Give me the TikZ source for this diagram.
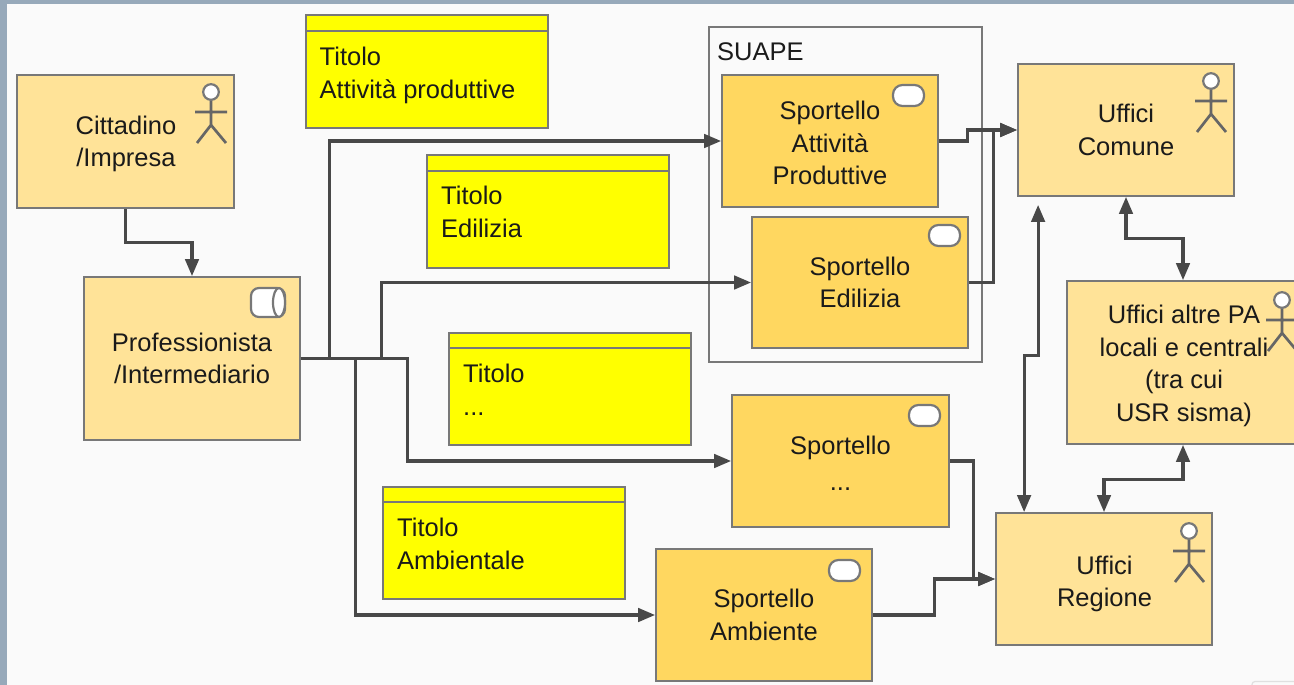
\documentclass[tikz,border=0pt]{standalone}
\usepackage{fontspec}
\setmainfont{Liberation Sans}
\usetikzlibrary{arrows.meta,calc}
\definecolor{pagebg}{HTML}{97A9BA}
\definecolor{canvas}{HTML}{FAFAFA}
\definecolor{actorfill}{HTML}{FFE398}
\definecolor{servicefill}{HTML}{FFD760}
\definecolor{titlefill}{RGB}{255,255,0}
\definecolor{edgeclr}{HTML}{787878}
\definecolor{connclr}{HTML}{484848}
\definecolor{txtclr}{HTML}{1A1A1A}
\tikzset{
  x=1pt,y=-1pt,
  every node/.style={font=\fontsize{25.5}{32.5}\selectfont,text=txtclr},
  boxbase/.style={draw=edgeclr,line width=1.8pt,inner sep=0pt,align=center,anchor=center},
  actorbox/.style={boxbase,fill=actorfill},
  servicebox/.style={boxbase,fill=servicefill},
  titlebox/.style={boxbase,fill=titlefill},
  titletext/.style={align=left,anchor=north west,inner sep=0pt},
  groupbox/.style={draw=edgeclr,line width=1.6pt,fill=canvas,inner sep=0pt},
  conn/.style={draw=connclr,line width=3.1pt,-{Triangle[length=17pt,width=13.5pt]}},
  biconn/.style={draw=connclr,line width=3.1pt,{Triangle[length=17pt,width=13.5pt]}-{Triangle[length=17pt,width=13.5pt]}},
  iconline/.style={draw=edgeclr!85!black,line width=2.7pt},
  iconfill/.style={draw=edgeclr,line width=2.2pt,fill=white},
}
\newcommand{\actoricon}[2]{%
  \begin{scope}[shift={(#1,#2)}]
    \draw[iconline] (0,8) -- (0,33) (-16,20) -- (16,20) (-14,51) -- (0,33) -- (15,51);
    \draw[iconfill] (0,0) circle[radius=7.8];
  \end{scope}}
\newcommand{\pillicon}[2]{%
  \draw[iconfill,rounded corners=9.5pt] (#1,#2) rectangle ++(31,21);}
\begin{document}
\begin{tikzpicture}
\useasboundingbox (0,0) rectangle (1294,685);
\fill[pagebg] (0,0) rectangle (1294,685);
\fill[canvas] (7,4) rectangle (1294,685);
\begin{scope}
\clip (0,0) rectangle (1294,685);
\draw[draw=black!12,line width=1.2pt,rounded corners=3pt] (1252,690) -- (1252,681.5) -- (1300,681.5);

% group
\node[groupbox,minimum width=273pt,minimum height=335pt] (suape) at (845.5,194.5) {};
\node[anchor=west,inner sep=0pt] (suapelabel) at (717,52) {SUAPE};

% title boxes
\node[titlebox,minimum width=242pt,minimum height=113pt] (t1) at (427,71.5) {};
\draw[edgeclr,line width=1.6pt] ($(t1.north west)+(0,17)$) -- ($(t1.north east)+(0,17)$);
\node[titletext] (t1l) at (319.5,47) {Titolo\\Attività produttive};
\node[titlebox,minimum width=242pt,minimum height=113pt] (t2) at (548,211.5) {};
\draw[edgeclr,line width=1.6pt] ($(t2.north west)+(0,17)$) -- ($(t2.north east)+(0,17)$);
\node[titletext] (t2l) at (441,186) {Titolo\\Edilizia};
\node[titlebox,minimum width=242pt,minimum height=112pt] (t3) at (570,389) {};
\draw[edgeclr,line width=1.6pt] ($(t3.north west)+(0,16)$) -- ($(t3.north east)+(0,16)$);
\node[titletext] (t3l) at (463,364) {Titolo\\...};
\node[titlebox,minimum width=242pt,minimum height=112pt] (t4) at (504,543) {};
\draw[edgeclr,line width=1.6pt] ($(t4.north west)+(0,16)$) -- ($(t4.north east)+(0,16)$);
\node[titletext] (t4l) at (397,518) {Titolo\\Ambientale};

% actors
\node[actorbox,minimum width=217pt,minimum height=133pt] (cit) at (125.5,141.5) {};
\node[align=center,inner sep=0pt] (citl) at (126,144) {Cittadino\\/Impresa};
\node[actorbox,minimum width=216pt,minimum height=163pt] (prof) at (192,358.5) {Professionista\\/Intermediario};
\node[actorbox,minimum width=216pt,minimum height=132pt] (comune) at (1126,130) {Uffici\\Comune};
\node[actorbox,minimum width=232pt,minimum height=163pt] (altre) at (1183,362.5) {};
\node[align=center,inner sep=0pt] (altrel) at (1184,366) {Uffici altre PA\\locali e centrali\\(tra cui\\USR sisma)};
\node[actorbox,minimum width=216pt,minimum height=132pt] (regione) at (1104,579) {};
\node[align=center,inner sep=0pt] (regionel) at (1104.5,584) {Uffici\\Regione};

% services
\node[servicebox,minimum width=216pt,minimum height=132pt] (spap) at (830,141) {};
\node[align=center,inner sep=0pt] (spapl) at (830,143) {Sportello\\Attività\\Produttive};
\node[servicebox,minimum width=216pt,minimum height=131pt] (sped) at (860,282.5) {Sportello\\Edilizia};
\node[servicebox,minimum width=217pt,minimum height=132pt] (spdots) at (840.5,461) {};
\node[align=center,inner sep=0pt] (spdotsl) at (840.5,463.5) {Sportello\\[3pt]...};
\node[servicebox,minimum width=216pt,minimum height=132pt] (spamb) at (764,615) {Sportello\\Ambiente};

% icons
\actoricon{211}{92}
\actoricon{1211}{81}
\actoricon{1282}{300}
\actoricon{1189}{531}
\pillicon{893}{85}
\pillicon{929}{225}
\pillicon{909}{405}
\pillicon{829}{560}
\draw[iconfill,rounded corners=8pt] (251,288) rectangle (285,317);
\draw[iconfill] (279,302.5) ellipse[x radius=6,y radius=14.5];

% connectors
\draw[conn] (cit.south) -- ++(0,34) -| (prof.north);
\draw[conn] (prof.east) -- ++(29,0) |- (spap.west);
\draw[conn] (prof.east) -- ++(81,0) |- (sped.west);
\draw[conn] (prof.east) -- ++(107,0) |- (spdots.west);
\draw[conn] (prof.east) -- ++(55,0) |- (spamb.west);
\draw[conn] (spap.east) -- ++(29,0) |- (comune.west);
\draw[conn] (sped.east) -- ++(25,0) |- (comune.west);
\draw[conn] (spdots.east) -- ++(24,0) |- (regione.west);
\draw[conn] (spamb.east) -- ++(62,0) |- (regione.west);
\coordinate (cfree) at ($(comune.south west)+(21,8)$);
\coordinate (rfree) at ($(regione.north west)+(29,0)$);
\draw[biconn] (cfree) -- ++(0,151) -| (rfree);
\draw[biconn] (comune.south) -- ++(0,42) -| (altre.north);
\draw[biconn] (altre.south) -- ++(0,35) -| (regione.north);
\end{scope}
\end{tikzpicture}
\end{document}
